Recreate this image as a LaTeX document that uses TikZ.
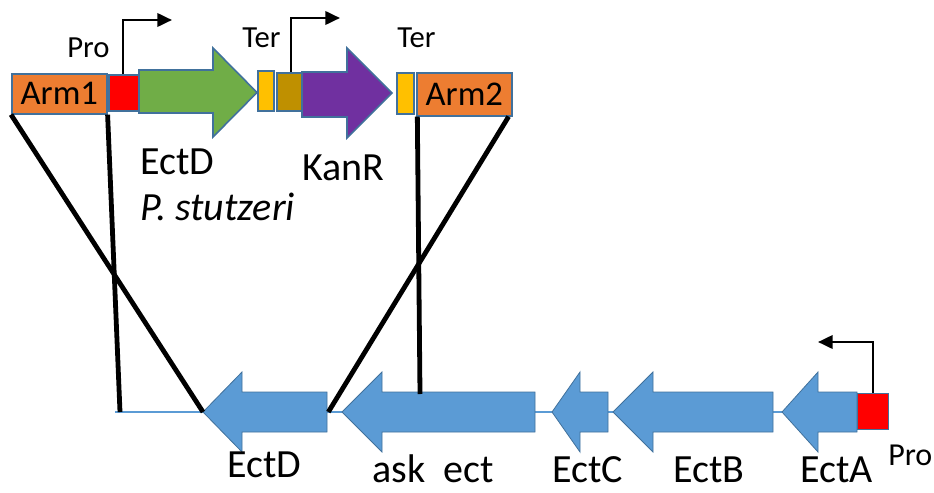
\documentclass[tikz,border=0pt]{standalone}
\usepackage{fontspec}
\setmainfont{Carlito}
\usetikzlibrary{arrows.meta}
\definecolor{cOrange}{HTML}{ED7D31}
\definecolor{cGreen}{HTML}{70AD47}
\definecolor{cPurple}{HTML}{7030A0}
\definecolor{cYellow}{HTML}{FFC000}
\definecolor{cOlive}{HTML}{BF9000}
\definecolor{cRed}{HTML}{FF0000}
\definecolor{cBlue}{HTML}{5B9BD5}
\definecolor{cEdge}{HTML}{41719C}
\tikzset{
  part/.style={draw=cEdge, line width=1.2pt, line join=miter},
  armbox/.style={part, fill=cOrange, inner sep=0pt, anchor=north west, font=\fontsize{26}{30}\selectfont},
  gene/.style={part, fill=cBlue, line width=0.6pt},
  cross/.style={line width=3.6pt, black},
  promo/.style={line width=2pt, black, -{Triangle[length=11pt,width=10pt]}},
  lbl/.style={inner sep=0pt, anchor=base west, font=\fontsize{30}{34}\selectfont},
  small/.style={inner sep=0pt, anchor=base west, font=\fontsize{23}{27}\selectfont},
}
\begin{document}
\begin{tikzpicture}[x=0.75pt, y=-0.75pt]
\useasboundingbox (0,0) rectangle (934,492);
% ---------- top construct ----------
\node[armbox, minimum width=71.25pt, minimum height=30pt] (arm1) at (11,73) {Arm1};
\node[part, fill=cRed, inner sep=0pt, anchor=north west, minimum width=23.25pt, minimum height=27pt] (pro1) at (108,74) {};
\draw[part, fill=cGreen] (139,70) -- (213,70) -- (213,48) -- (257,92.5) -- (213,137) -- (213,113) -- (139,113) -- cycle;
\node[part, fill=cYellow, inner sep=0pt, anchor=north west, minimum width=12pt, minimum height=30pt] (ter1) at (257,70) {};
\node[part, fill=cOlive, inner sep=0pt, anchor=north west, minimum width=19.5pt, minimum height=28.5pt] (pro2) at (276,72) {};
\draw[part, fill=cPurple] (302,72) -- (347,72) -- (347,48) -- (392,93) -- (347,138) -- (347,117) -- (302,117) -- cycle;
\node[part, fill=cYellow, inner sep=0pt, anchor=north west, minimum width=12.75pt, minimum height=30.75pt] (ter2) at (396,72) {};
\node[armbox, minimum width=71.25pt, minimum height=32.25pt] (arm2) at (416,72) {Arm2};
% promoter arrows (top)
\coordinate (p1top) at (123,20);
\coordinate (p1end) at (172,20);
\draw[promo] (pro1.north -| p1top) -- (p1top) -- (p1end);
\coordinate (p2top) at (291,18);
\coordinate (p2end) at (340,18);
\draw[promo] (pro2.north -| p2top) -- (p2top) -- (p2end);
% top labels
\node[small] (lpro1) at (67,58) {Pro};
\node[small] (lter1) at (242,48) {Ter};
\node[small] (lter2) at (397,48) {Ter};
\node[lbl] (lectD1) at (140,174) {EctD};
\node[lbl] (lkan) at (302,180) {KanR};
\node[lbl] (lstut) at (140,220) {\itshape P. stutzeri};
% ---------- bottom genome ----------
\coordinate (gstart) at (115,412);
\coordinate (gend) at (857,412);
\draw[cBlue, line width=1.1pt] (gstart) -- (gend);
\draw[gene] (203,412) coordinate (dtip) -- (242,372) -- (242,392) -- (327,392) coordinate (dend) -- (327,432) -- (242,432) -- (242,452) -- cycle;
\draw[gene] (342,412) -- (382,372) -- (382,392) coordinate (asktop) -- (535,392) -- (535,432) -- (382,432) -- (382,452) -- cycle;
\draw[gene] (552,412) -- (580,372) -- (580,392) -- (608,392) -- (608,432) -- (580,432) -- (580,452) -- cycle;
\draw[gene] (613,412) -- (653,372) -- (653,392) -- (773,392) -- (773,432) -- (653,432) -- (653,452) -- cycle;
\draw[gene] (782,412) -- (818,372) -- (818,392) -- (857,392) -- (857,432) -- (818,432) -- (818,452) -- cycle;
\node[part, fill=cRed, line width=0.6pt, inner sep=0pt, anchor=north west, minimum width=23.25pt, minimum height=27pt] (pro3) at (857,393) {};
\coordinate (p3top) at (873,342);
\coordinate (p3end) at (818,342);
\draw[promo] (pro3.north -| p3top) -- (p3top) -- (p3end);
% crossing lines
\coordinate (c2) at (120,412);
\coordinate (c3) at (420,394);
\draw[cross] (arm1.south west) -- (dtip);
\draw[cross] (arm1.south east) -- (c2);
\draw[cross] ([xshift=1pt]arm2.south west) -- (c3);
\draw[cross] ([xshift=-3pt]arm2.south east) -- ([xshift=1pt]dend |- dtip);
% bottom labels
\node[lbl] (lectD2) at (227,477) {EctD};
\node[lbl] (lask) at (372,482) {ask\ \ ect};
\node[lbl] (lectC) at (552,482) {EctC};
\node[lbl] (lectB) at (673,482) {EctB};
\node[lbl] (lectA) at (800,482) {EctA};
\node[inner sep=0pt, anchor=base west, font=\fontsize{24}{28}\selectfont] (lpro3) at (888,465) {Pro};
\end{tikzpicture}
\end{document}
